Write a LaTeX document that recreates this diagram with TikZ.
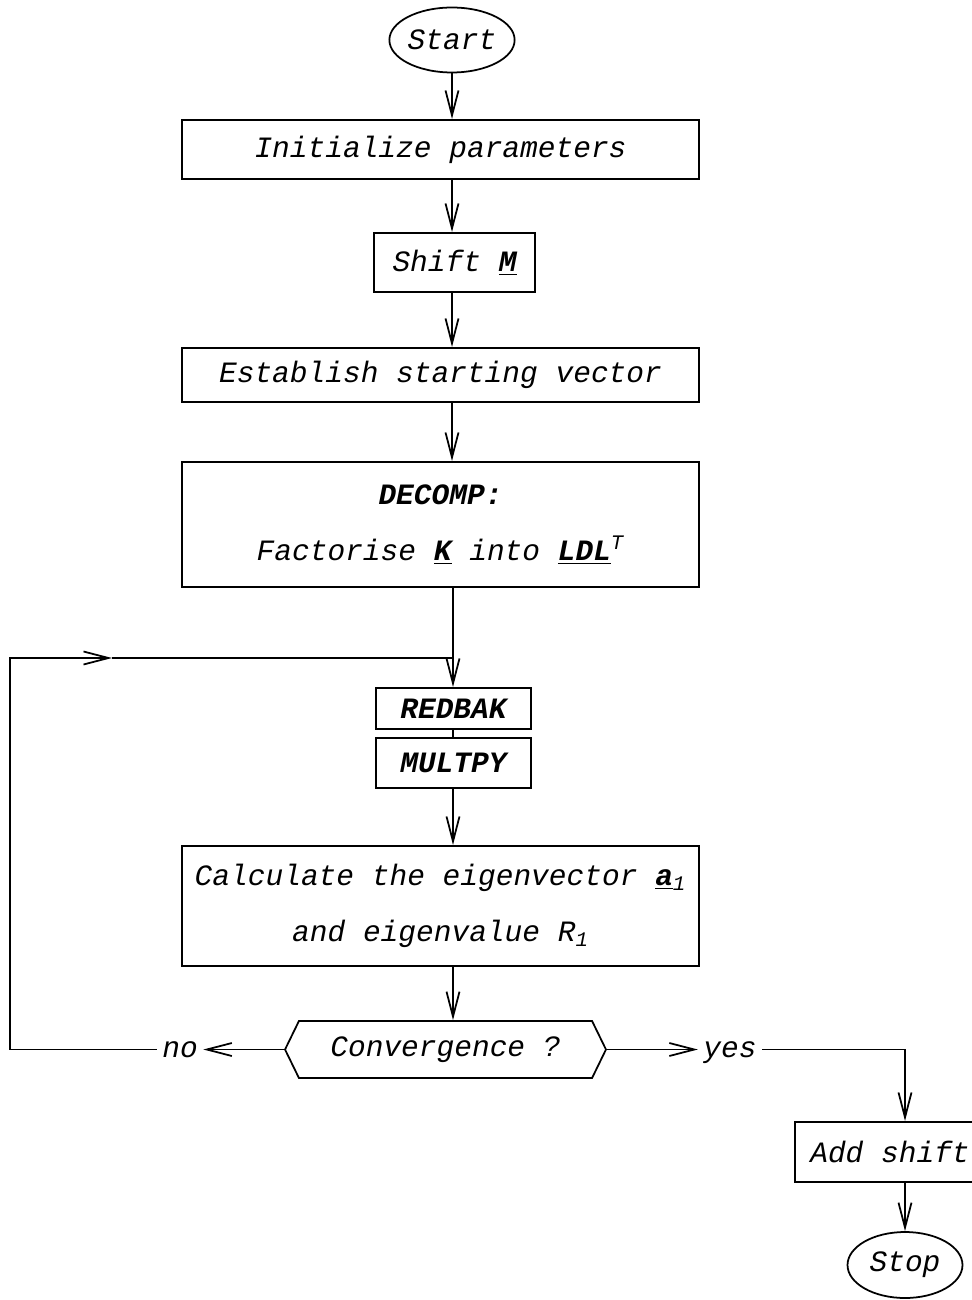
\documentclass[tikz,border=0pt]{standalone}
\usepackage{fontspec}
\setmonofont{Liberation Mono}
\usepackage{tikz}
\usetikzlibrary{arrows.meta,positioning,shapes.geometric,shapes.symbols,calc}

\newcommand{\ubf}[1]{\underline{\textbf{#1}}}

\begin{document}
\begin{tikzpicture}[
  x=0.02cm, y=-0.02cm,
  every node/.style={font=\ttfamily\itshape\fontsize{16.8}{19}\selectfont},
  box/.style={rectangle, draw, line width=1.2pt, minimum width=10.34cm, inner sep=0pt, align=center},
  smallbox/.style={rectangle, draw, line width=1.2pt, minimum width=3.1cm, inner sep=0pt, align=center},
  term/.style={ellipse, draw, line width=1pt, inner sep=0pt},
  test/.style={signal, signal to=east and west, signal pointer angle=128, draw, line width=1pt, minimum width=6.42cm, minimum height=1.14cm, inner sep=0pt},
  answer/.style={text height=8.9pt, text depth=0pt, inner sep=3pt},
  arrow/.style={-{Straight Barb[length=5mm,width=2.6mm]}, line width=1pt},
  line/.style={line width=1pt}
]
\useasboundingbox (0,0) rectangle (972,1300);

% main column
\node[term, minimum width=2.4cm, minimum height=1.3cm] (start) at (452,40) {Start};
\node[box, minimum height=1.18cm] (init) at (440.5,149.5) {Initialize parameters};
\node[smallbox, minimum width=3.22cm, minimum height=1.18cm] (shiftm) at (454.5,262.5) {Shift \ubf{M}};
\node[box, minimum height=1.08cm] (estab) at (440.5,375) {Establish starting vector};
\node[box, minimum height=2.5cm] (decomp) at (440.5,524.5) {\textbf{DECOMP:}\\[13pt]Factorise \ubf{K} into \ubf{LDL}\textsuperscript{T}};

% iteration
\node[smallbox, minimum height=0.82cm] (redbak) at (453.5,708.5) {\textbf{REDBAK}};
\node[smallbox, minimum height=1.0cm] (multpy) at (453.5,763) {\textbf{MULTPY}};
\node[box, minimum height=2.4cm] (calc) at (440.5,906) {Calculate the eigenvector \ubf{a}\textsubscript{1}\\[13pt]and eigenvalue R\textsubscript{1}};
\node[test] (conv) at (445.5,1049.5) {Convergence ?};
\node[answer] (no) at (180,1049.5) {no};
\node[answer] (yes) at (730,1049.5) {yes};

% exit
\node[smallbox, minimum width=3.8cm, minimum height=1.2cm] (add) at (890,1152) {Add shift};
\node[term, minimum width=2.3cm, minimum height=1.32cm] (stop) at (905,1265) {Stop};

% loop back
\coordinate (lc) at (10,658);
\coordinate (lm) at (112,658);
\coordinate (lj) at (453,658);

% arrows
\draw[arrow] (start.south) -- (start.south |- init.north);
\draw[arrow] (start.south |- init.south) -- (start.south |- shiftm.north);
\draw[arrow] (start.south |- shiftm.south) -- (start.south |- estab.north);
\draw[arrow] (start.south |- estab.south) -- (start.south |- decomp.north);
\draw[arrow] (lj |- decomp.south) -- (redbak.north -| lj);
\draw[line] (redbak.south -| lj) -- (multpy.north -| lj);
\draw[arrow] (multpy.south -| lj) -- (calc.north -| lj);
\draw[arrow] (calc.south -| lj) -- (conv.north -| lj);
\draw[arrow] (conv.west) -- (no.east);
\draw[arrow] (no.west) -| (lc) -- (lm);
\draw[line] (lm) -- (lj);
\draw[arrow] (conv.east) -- (yes.west);
\draw[arrow] (yes.east) -| (stop.north |- add.north);
\draw[arrow] (stop.north |- add.south) -- (stop.north);

\end{tikzpicture}
\end{document}
